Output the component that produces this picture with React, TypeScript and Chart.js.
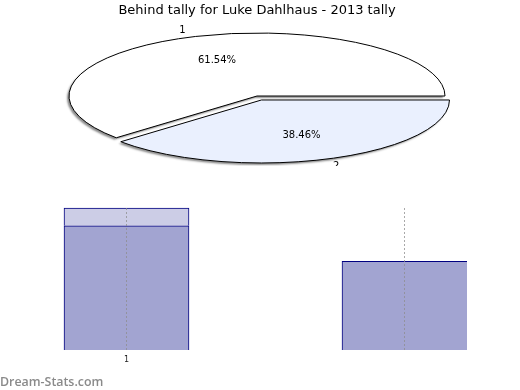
import React, { useEffect, useRef } from "react";
import { Chart, registerables } from "chart.js";

Chart.register(...registerables);

// ---- data ----
const titleText = "Behind tally for Luke Dahlhaus - 2013 tally";
const categories = ["1", "2"];
const pieValues = [8, 5];
const barMain = [7, 5];
const barTop: (number | null)[] = [1, null];
const yMax = 8;
const watermark = "Dream-Stats.com";

const FONT = "DejaVu Sans";

const ellipsePie = {
  id: "ellipsePie",
  beforeDatasetsDraw(chart: any) {
    const ctx = chart.ctx;
    const area = chart.chartArea;
    const rx = area.width / 2;
    const ry = area.height / 2;
    const meta = chart.getDatasetMeta(0);
    const data = chart.data.datasets[0].data as number[];
    const total = data.reduce((a, b) => a + b, 0);
    const geo = meta.data.map((el: any) => {
      const p = el.getProps(["x", "y", "startAngle", "endAngle"], true);
      const mid = (p.startAngle + p.endAngle) / 2;
      const px = rx * Math.cos(mid);
      const py = ry * Math.sin(mid);
      const len = Math.hypot(px, py) || 1;
      const off = el.options.offset || 0;
      return {
        cx: p.x + (off * px) / len,
        cy: p.y + (off * py) / len,
        s: p.startAngle,
        e: p.endAngle,
        mid,
        fill: el.options.backgroundColor,
      };
    });
    geo.forEach((g: any) => {
      ctx.save();
      ctx.beginPath();
      ctx.moveTo(g.cx, g.cy);
      ctx.ellipse(g.cx, g.cy, rx, ry, 0, g.s, g.e);
      ctx.closePath();
      ctx.shadowColor = "rgba(0,0,0,0.45)";
      ctx.shadowOffsetX = -2;
      ctx.shadowOffsetY = 2;
      ctx.shadowBlur = 2;
      ctx.fillStyle = g.fill;
      ctx.fill();
      ctx.restore();
      ctx.save();
      ctx.beginPath();
      ctx.moveTo(g.cx, g.cy);
      ctx.ellipse(g.cx, g.cy, rx, ry, 0, g.s, g.e);
      ctx.closePath();
      ctx.lineWidth = 1;
      ctx.strokeStyle = "#000";
      ctx.stroke();
      ctx.restore();
    });
    ctx.save();
    ctx.fillStyle = "#000";
    ctx.textAlign = "center";
    ctx.textBaseline = "middle";
    ctx.font = `10px "${FONT}"`;
    geo.forEach((g: any, i: number) => {
      const pct = ((data[i] / total) * 100).toFixed(2) + "%";
      ctx.fillText(pct, g.cx + 0.6 * rx * Math.cos(g.mid), g.cy + 0.6 * ry * Math.sin(g.mid));
      ctx.fillText(
        String(chart.data.labels[i]),
        g.cx + 1.12 * rx * Math.cos(g.mid),
        g.cy + 1.12 * ry * Math.sin(g.mid)
      );
    });
    ctx.restore();
    return false;
  },
};

export default function App() {
  const pieRef = useRef<HTMLCanvasElement>(null);
  const barRef = useRef<HTMLCanvasElement>(null);

  useEffect(() => {
    const total = pieValues.reduce((a, b) => a + b, 0);
    const pie = new Chart(pieRef.current!, {
      type: "pie",
      data: {
        labels: categories,
        datasets: [
          {
            data: pieValues,
            backgroundColor: ["#ffffff", "#eaf0fe"],
            borderWidth: 0,
            offset: [0, 6],
          },
        ],
      },
      options: {
        animation: false,
        responsive: false,
        devicePixelRatio: 1,
        rotation: 90 + 360 * (1 - pieValues[0] / total),
        layout: { padding: { left: 69, right: 75, top: 0, bottom: 7 } },
        plugins: {
          legend: { display: false },
          tooltip: { enabled: false },
          title: {
            display: true,
            text: titleText,
            color: "#000",
            font: { family: FONT, size: 13, weight: "normal", lineHeight: 1.2 },
            padding: { top: 3, bottom: 14.4 },
          },
        },
      } as any,
      plugins: [ellipsePie],
    });

    const bar = new Chart(barRef.current!, {
      type: "bar",
      data: {
        labels: categories,
        datasets: [
          {
            data: barMain,
            backgroundColor: "#a2a4d1",
            borderColor: "#000080",
            borderWidth: (c: any) =>
              c.dataIndex === 1 ? { top: 1, left: 1, right: 0, bottom: 0 } : 1,
            barThickness: 125,
            clip: false,
          } as any,
          {
            data: barTop,
            backgroundColor: "#cccde6",
            borderColor: "#000080",
            borderWidth: 1,
            barThickness: 125,
            clip: false,
          } as any,
        ],
      },
      options: {
        animation: false,
        responsive: false,
        devicePixelRatio: 1,
        layout: { autoPadding: false, padding: { left: 126.5, right: 115.5, top: 42, bottom: 0 } },
        plugins: { legend: { display: false }, tooltip: { enabled: false } },
        scales: {
          x: {
            stacked: true,
            offset: false,
            grid: {
              display: true,
              offset: false,
              drawTicks: false,
              color: "rgba(140,140,140,0.75)",
              lineWidth: 1,
              z: 1,
            },
            border: { display: false, dash: [2, 2] },
            ticks: {
              autoSkip: false,
              maxRotation: 0,
              padding: 5,
              color: "#222",
              font: { family: FONT, size: 8 },
              callback: (_v: any, i: number) => (i === 0 ? categories[i] : ""),
            },
            afterFit: (s: any) => {
              s.height = 40;
            },
          },
          y: { stacked: true, display: false, min: 0, max: yMax },
        },
      } as any,
    });

    return () => {
      pie.destroy();
      bar.destroy();
    };
  }, []);

  return (
    <div style={{ position: "fixed", left: 0, top: 0, width: 520, height: 390, background: "#fff", overflow: "hidden" }}>
      <canvas ref={pieRef} width={520} height={166} style={{ position: "absolute", left: 0, top: 0, width: 520, height: 166 }} />
      <canvas ref={barRef} width={520} height={224} style={{ position: "absolute", left: 0, top: 166, width: 520, height: 224 }} />
      <div
        style={{
          position: "absolute",
          left: 0,
          top: 374,
          fontFamily: '"Open Sans", sans-serif',
          fontWeight: 600,
          fontSize: 12.4,
          lineHeight: "16px",
          color: "#8a8a8a",
          whiteSpace: "nowrap",
        }}
      >
        {watermark}
      </div>
    </div>
  );
}
